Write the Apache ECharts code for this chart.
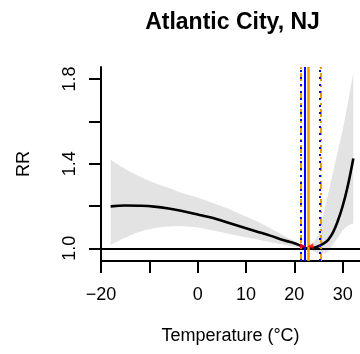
<!DOCTYPE html>
<html>
<head>
<meta charset="utf-8">
<script src="https://cdn.jsdelivr.net/npm/echarts@6/dist/echarts.min.js"></script>
<style>
html,body{margin:0;padding:0;background:#fff;overflow:hidden;}
#c{width:360px;height:354px;}
</style>
</head>
<body>
<div id="c"></div>
<script>
var titleText = 'Atlantic City, NJ';
var xName = 'Temperature (\u00B0C)';
var yName = 'RR';
var xTicks = [-20, -10, 0, 10, 20, 30];
var xTickLabels = [-20, 0, 10, 20, 30];
var yTicks = [1.0, 1.2, 1.4, 1.6, 1.8];
var yTickLabels = [1.0, 1.4, 1.8];

var temps = [-18, -15, -12, -9, -6, -3, 0, 3, 6, 9, 12, 15, 18, 20, 21, 22, 22.5, 23, 24, 25, 26, 27, 28, 29, 30, 31, 32.2];
var rr    = [1.198, 1.202, 1.201, 1.197, 1.188, 1.175, 1.160, 1.144, 1.123, 1.102, 1.081, 1.060, 1.037, 1.024, 1.015, 1.005, 1.0, 1.0, 1.002, 1.010, 1.022, 1.040, 1.075, 1.130, 1.200, 1.290, 1.425];
var upper = [1.418, 1.375, 1.340, 1.310, 1.285, 1.260, 1.240, 1.215, 1.190, 1.160, 1.130, 1.095, 1.058, 1.035, 1.022, 1.008, 1.0, 1.003, 1.030, 1.070, 1.160, 1.260, 1.360, 1.460, 1.560, 1.680, 1.830];
var lower = [1.016, 1.050, 1.078, 1.095, 1.103, 1.104, 1.098, 1.085, 1.071, 1.056, 1.043, 1.030, 1.016, 1.008, 1.005, 1.001, 1.0, 0.995, 0.985, 0.976, 0.975, 0.985, 1.020, 1.050, 1.085, 1.105, 1.118];

var refLine = 1.0;
var blueSolid = 22.2;
var orangeSolid = 22.8;
var blueDotted = [21.4, 25.3];
var orangeDotDash = [21.3, 25.4];
var redMarks = [[21.8, 1.01], [23.3, 1.01]];

var FONT = 'Liberation Sans, Arial, Helvetica, sans-serif';
var ORANGE = '#E69F00';
var BLUE = '#0000FF';

var chart = echarts.init(document.getElementById('c'), null, {renderer: 'canvas'});

var curveData = temps.map(function (t, i) { return [t, rr[i]]; });

// pixel-space Catmull-Rom smoothing of an edge (rendering only)
function smoothEdge(pts) {
  var out = [];
  var n = pts.length;
  for (var i = 0; i < n - 1; i++) {
    var p0 = pts[Math.max(0, i - 1)], p1 = pts[i], p2 = pts[i + 1], p3 = pts[Math.min(n - 1, i + 2)];
    var c1 = [p1[0] + (p2[0] - p0[0]) / 6, p1[1] + (p2[1] - p0[1]) / 6];
    var c2 = [p2[0] - (p3[0] - p1[0]) / 6, p2[1] - (p3[1] - p1[1]) / 6];
    for (var s = 0; s < 8; s++) {
      var t = s / 8, u = 1 - t;
      out.push([
        u*u*u*p1[0] + 3*u*u*t*c1[0] + 3*u*t*t*c2[0] + t*t*t*p2[0],
        u*u*u*p1[1] + 3*u*u*t*c1[1] + 3*u*t*t*c2[1] + t*t*t*p2[1]
      ]);
    }
  }
  out.push(pts[n - 1]);
  return out;
}

var vLines = [];
orangeDotDash.forEach(function (v) {
  vLines.push({xAxis: v, lineStyle: {color: ORANGE, width: 2, type: [8, 4, 2, 4]}});
});
blueDotted.forEach(function (v) {
  vLines.push({xAxis: v, lineStyle: {color: BLUE, width: 2, type: [2, 5]}});
});
vLines.push({xAxis: blueSolid, lineStyle: {color: BLUE, width: 2, type: 'solid'}});
vLines.push({xAxis: orangeSolid, lineStyle: {color: ORANGE, width: 2.5, type: 'solid'}});

var option = {
  animation: false,
  backgroundColor: '#ffffff',
  textStyle: {fontFamily: FONT},
  graphic: [{
    type: 'text', x: 232.5, y: 23,
    style: {text: titleText, textAlign: 'center', textVerticalAlign: 'middle',
            font: 'bold 23px ' + FONT, fill: '#000'}
  }],
  grid: {left: 101, top: 67, right: 0, bottom: 93, containLabel: false},
  xAxis: {
    type: 'value', min: -20, max: 33.58,
    name: xName, nameLocation: 'middle', nameGap: 66,
    nameTextStyle: {fontSize: 18, color: '#000', fontFamily: FONT},
    axisLine: {show: true, onZero: false, lineStyle: {color: '#000', width: 2}},
    axisTick: {show: true, customValues: xTicks, length: 12, inside: false, lineStyle: {color: '#000', width: 2}},
    axisLabel: {show: true, customValues: xTickLabels, margin: 25, fontSize: 18, color: '#000', fontFamily: FONT,
      formatter: function (v) { return v < 0 ? '\u2212' + Math.abs(v) : String(v); }},
    splitLine: {show: false}
  },
  yAxis: {
    type: 'value', min: 0.94, max: 1.857,
    name: yName, nameLocation: 'middle', nameGap: 68,
    nameTextStyle: {fontSize: 18, color: '#000', fontFamily: FONT},
    axisLine: {show: true, onZero: false, lineStyle: {color: '#000', width: 2}},
    axisTick: {show: true, customValues: yTicks, length: 12, inside: false, lineStyle: {color: '#000', width: 2}},
    axisLabel: {show: true, customValues: yTickLabels, rotate: 90, margin: 22, fontSize: 18, color: '#000', fontFamily: FONT,
      formatter: function (v) { return v.toFixed(1); }},
    splitLine: {show: false}
  },
  series: [
    {
      type: 'custom',
      z: 1,
      silent: true,
      data: [0],
      renderItem: function (params, api) {
        var up = [], lo = [];
        for (var i = 0; i < temps.length; i++) {
          up.push(api.coord([temps[i], upper[i]]));
          lo.push(api.coord([temps[i], lower[i]]));
        }
        var pts = smoothEdge(up).concat(smoothEdge(lo).reverse());
        return {type: 'polygon', shape: {points: pts}, style: {fill: '#E3E3E3', stroke: null}};
      }
    },
    {
      type: 'line',
      z: 3,
      data: curveData,
      smooth: 0.4,
      showSymbol: false,
      lineStyle: {color: '#000', width: 2.6},
      markLine: {
        silent: true, symbol: ['none', 'none'], label: {show: false},
        lineStyle: {color: '#000', width: 2, type: 'solid'},
        data: [{yAxis: refLine}]
      }
    },
    {
      type: 'line',
      z: 5,
      data: [],
      markLine: {
        silent: true, symbol: ['none', 'none'], label: {show: false},
        data: vLines
      }
    },
    {
      type: 'scatter',
      z: 6,
      data: redMarks.map(function (p, i) {
        return {value: p, symbolRotate: i === 0 ? -90 : 90};
      }),
      symbol: 'triangle',
      symbolSize: 6,
      itemStyle: {color: '#FF0000'}
    }
  ]
};
chart.setOption(option);
</script>
</body>
</html>
